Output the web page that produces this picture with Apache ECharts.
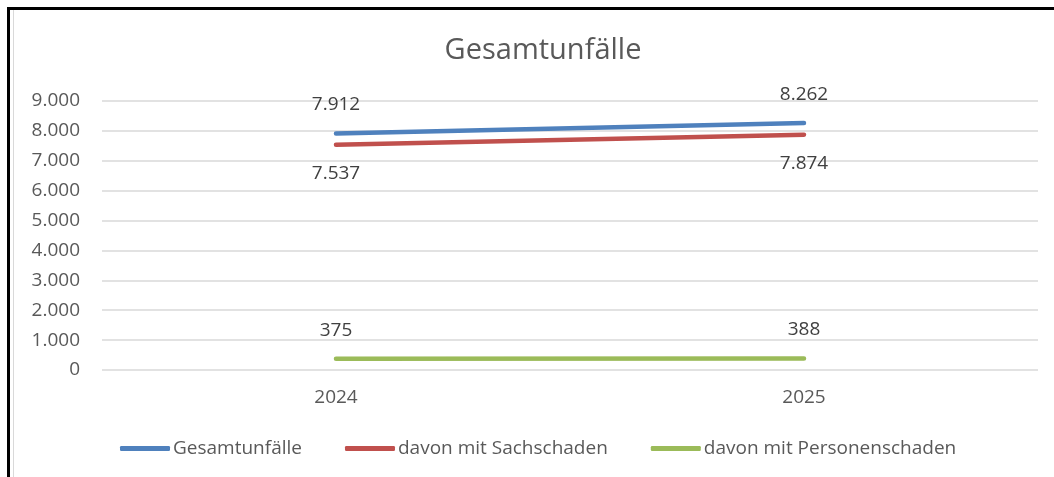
<!DOCTYPE html>
<html>
<head>
<meta charset="utf-8">
<script src="https://cdn.jsdelivr.net/npm/echarts@6/dist/echarts.min.js"></script>
<style>
  html, body { margin: 0; padding: 0; background: #fff; }
  #frame { position: absolute; left: 7px; top: 7px; width: 1047px; height: 470px;
    border-left: 3px solid #000; border-top: 3px solid #000; }
  #inner { position: absolute; left: 3px; top: 0; width: 1px; height: 100%; background: #d9d9d9; }
  #chart { position: absolute; left: 0; top: 0; width: 1054px; height: 477px; }
</style>
</head>
<body>
<div id="frame"><div id="inner"></div></div>
<div id="chart"></div>
<script>
// 数据
const years = ['2024', '2025']
const gesamt = [7912, 8262]
const sach = [7537, 7874]
const personen = [375, 388]

const fmt = function(v) {
  return String(v).replace(/\B(?=(\d{3})+(?!\d))/g, '.')
}

let mychart = echarts.init(document.querySelector('#chart'))
const font = '"Open Sans", Lato, sans-serif'
const grey = '#595959'

function lineSeries(name, data, color, pos) {
  return {
    name,
    type: 'line',
    data,
    symbol: 'circle',
    symbolSize: 0.1,
    lineStyle: { width: 4.5, color, cap: 'round' },
    itemStyle: { color },
    label: {
      show: true,
      position: pos,
      distance: 19,
      color: '#404040',
      fontFamily: font,
      fontSize: 19,
      formatter: p => fmt(p.value)
    }
  }
}

let option = {
  animation: false,
  title: {
    text: 'Gesamtunfälle',
    left: 538,
    textAlign: 'center',
    top: 31,
    textStyle: { color: grey, fontFamily: font, fontSize: 29, fontWeight: 'normal' }
  },
  legend: {
    bottom: 14,
    left: 115,
    itemWidth: 50,
    itemHeight: 5,
    itemGap: 43,
    icon: 'roundRect',
    textStyle: { color: grey, fontFamily: font, fontSize: 19, padding: [0, 0, 0, -2] },
    data: ['Gesamtunfälle', 'davon mit Sachschaden', 'davon mit Personenschaden']
  },
  grid: { left: 102, right: 16, top: 101, bottom: 107 },
  xAxis: {
    type: 'category',
    data: years,
    boundaryGap: true,
    axisLine: { show: false },
    axisTick: { show: false },
    axisLabel: { color: grey, fontFamily: font, fontSize: 19, margin: 18 }
  },
  yAxis: {
    type: 'value',
    min: 0,
    max: 9000,
    interval: 1000,
    axisLine: { show: false },
    axisTick: { show: false },
    splitLine: { lineStyle: { color: '#d9d9d9', width: 1.5 } },
    axisLabel: { color: grey, fontFamily: font, fontSize: 19, margin: 22, formatter: fmt }
  },
  series: [
    lineSeries('Gesamtunfälle', gesamt, '#4f81bd', 'top'),
    lineSeries('davon mit Sachschaden', sach, '#c0504d', 'bottom'),
    lineSeries('davon mit Personenschaden', personen, '#9bbb59', 'top')
  ]
}
mychart.setOption(option)
</script>
</body>
</html>
